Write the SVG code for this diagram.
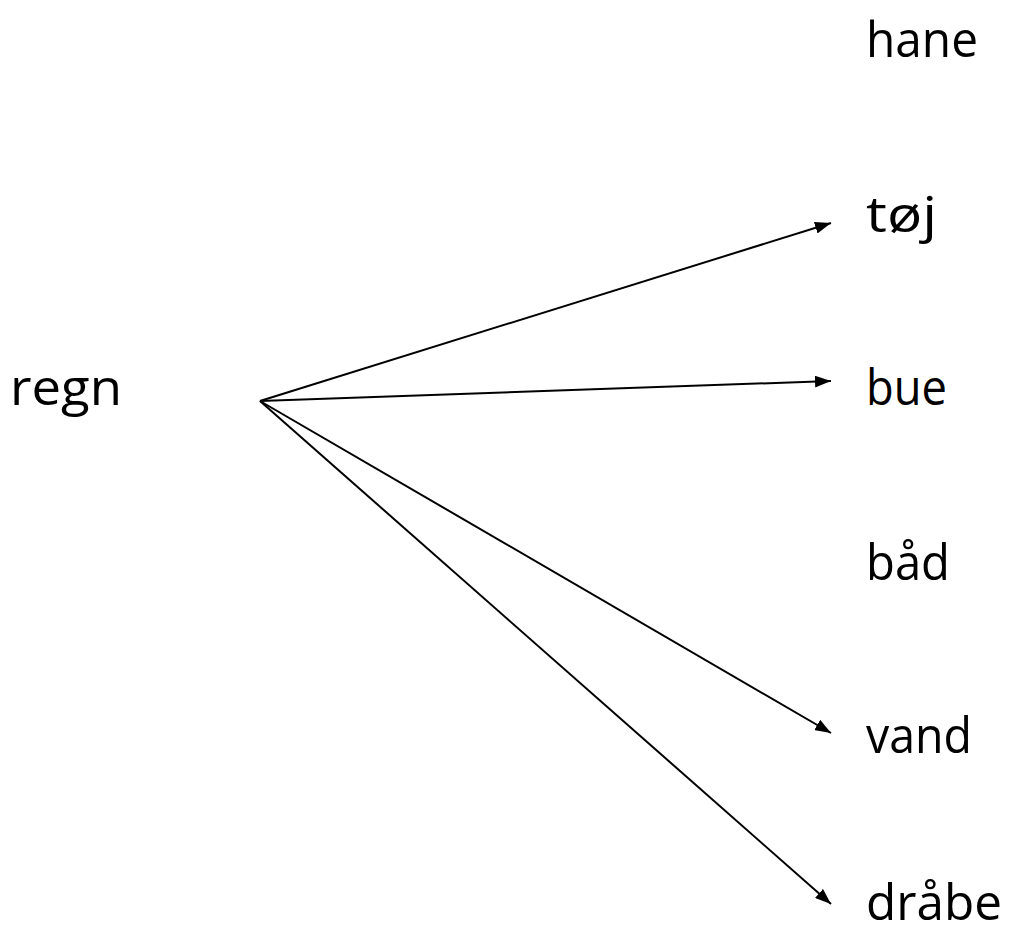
<svg xmlns="http://www.w3.org/2000/svg" width="1013" height="931" viewBox="0 0 1013 931">
<style>
text{font-family:"Open Sans","DejaVu Sans",sans-serif;font-size:50px;fill:#000}
.c line{stroke:#000;stroke-width:2;marker-end:url(#ah)}
</style>
<defs>
<marker id="ah" markerWidth="16" markerHeight="12" refX="16" refY="6" orient="auto" markerUnits="userSpaceOnUse">
<path d="M0,0 L16,6 L0,12 Z" fill="#000"/>
</marker>
</defs>
<rect width="1013" height="931" fill="#fff"/>
<g id="regn"><text x="10" y="405" textLength="112" lengthAdjust="spacingAndGlyphs">regn</text></g>
<g id="hane"><text x="866" y="57" textLength="112" lengthAdjust="spacingAndGlyphs">hane</text></g>
<g id="toj"><text x="866" y="232" textLength="71" lengthAdjust="spacingAndGlyphs">tøj</text></g>
<g id="bue"><text x="866" y="405" textLength="81" lengthAdjust="spacingAndGlyphs">bue</text></g>
<g id="baad"><text x="866" y="580" textLength="84" lengthAdjust="spacingAndGlyphs">båd</text></g>
<g id="vand"><text x="866" y="753" textLength="106" lengthAdjust="spacingAndGlyphs">vand</text></g>
<g id="draabe"><text x="866" y="920" textLength="136" lengthAdjust="spacingAndGlyphs">dråbe</text></g>
<g class="c" id="connectors">
<line x1="260" y1="401" x2="831" y2="223"/>
<line x1="260" y1="401" x2="831" y2="381"/>
<line x1="260" y1="401" x2="831" y2="733"/>
<line x1="260" y1="401" x2="831" y2="904"/>
</g>
</svg>
